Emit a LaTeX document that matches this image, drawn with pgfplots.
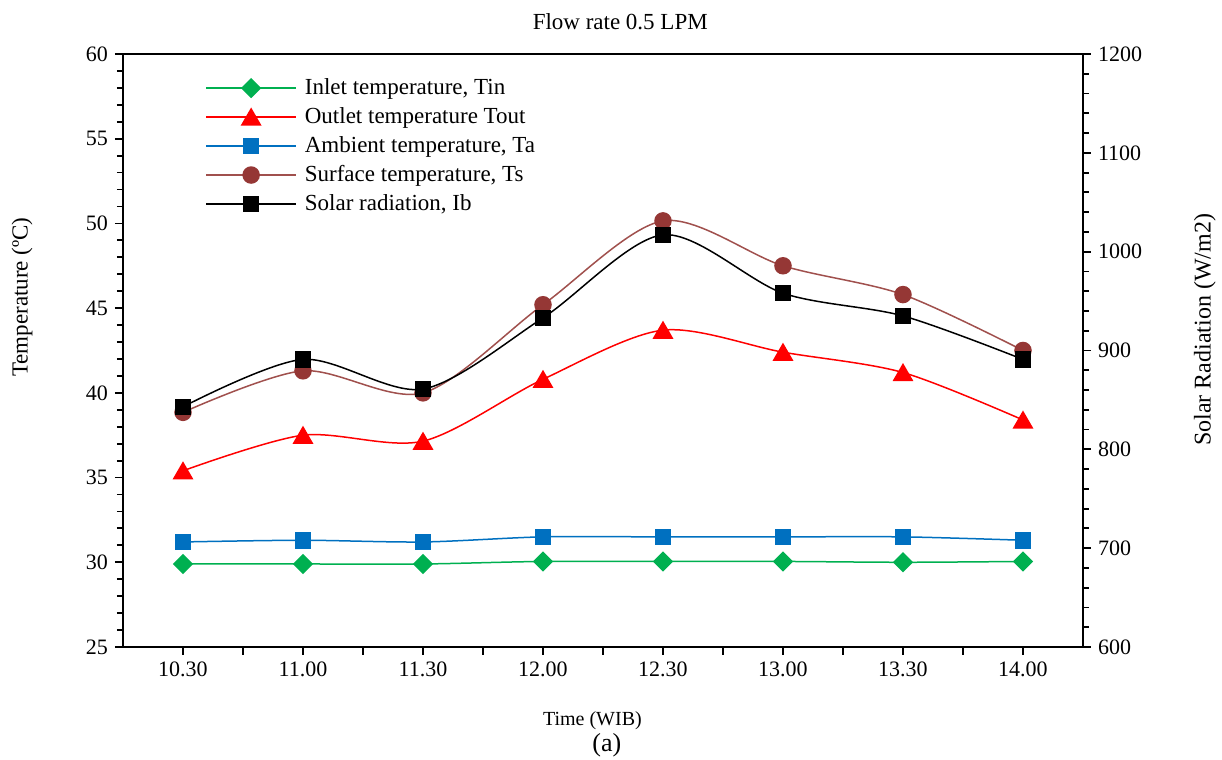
\documentclass[border=0pt]{standalone}
\usepackage{fontspec}
\setmainfont{Liberation Serif}
\usepackage{pgfplots}
\pgfplotsset{compat=1.18}

\definecolor{cTin}{HTML}{00B050}
\definecolor{cTout}{HTML}{FF0000}
\definecolor{cTa}{HTML}{0070C0}
\definecolor{cTs}{HTML}{953735}
\definecolor{cTsline}{HTML}{A0504D}

\begin{document}
\begin{tikzpicture}[x=1pt,y=1pt]
\useasboundingbox (-61.5,-56.5) rectangle (549.5,323.5);
\pgfplotsset{
  every axis/.append style={
    scale only axis, width=480pt, height=296.5pt,
    at={(0,0)}, anchor=south west,
    xmin=-0.5, xmax=7.5, clip=false,
    axis line style={line width=1.1pt},
    tick style={black, line width=0.9pt},
    tick align=outside,
    major tick length=4pt, minor tick length=3pt,
    tick label style={font=\fontsize{11}{13}\selectfont},
    label style={font=\fontsize{10}{12}\selectfont},
    /pgf/number format/assume math mode=true,
    /pgf/number format/1000 sep={},
  },
  mystyle/.style={smooth, tension=0.5, line width=0.75pt},
}
\begin{axis}[
    name=ax,
    ymin=25, ymax=60, ytick={25,30,...,60}, minor y tick num=4,
    xtick={0,0.5,...,7},
    xticklabels={10.30,,11.00,,11.30,,12.00,,12.30,,13.00,,13.30,,14.00},
    xtick pos=bottom, ytick pos=left,
    xlabel={Time (WIB)}, ylabel={Temperature (ºC)},
    xlabel style={at={(axis description cs:0.489,-0.125)}, anchor=center},
    ylabel style={at={(axis description cs:-0.105,0.59)}, anchor=center, font=\fontsize{11.5}{13}\selectfont},
    title={Flow rate 0.5 LPM},
    title style={at={(axis description cs:0.518,1.034)}, anchor=center, font=\fontsize{11.5}{13}\selectfont},
    legend style={draw=none, fill=none, at={(axis description cs:0.0854,0.966)}, anchor=north west,
        inner sep=0pt, row sep=1.0pt, font=\fontsize{11.5}{13.8}\selectfont,
        /tikz/every odd column/.append style={column sep=2pt}},
    legend cell align=left,
    legend image code/.code={\draw[mark repeat=2,mark phase=2] plot coordinates {(0pt,0pt) (22.5pt,0pt) (45pt,0pt)};},
]
\addplot[mystyle, cTin, mark=square*, mark options={rotate=45, fill=cTin, draw=cTin}, mark size=3.2pt] coordinates {
  (0,29.9) (1,29.9) (2,29.9) (3,30.05) (4,30.05) (5,30.05) (6,30.0) (7,30.05)
};
\addlegendentry{Inlet temperature, Tin}
\addplot[mystyle, cTout, mark=triangle*, mark options={fill=cTout, draw=cTout, yshift=-1.3pt}, mark size=5.3pt] coordinates {
  (0,35.4) (1,37.5) (2,37.15) (3,40.8) (4,43.7) (5,42.4) (6,41.2) (7,38.4)
};
\addlegendentry{Outlet temperature Tout}
\addplot[mystyle, cTa, mark=square*, mark options={fill=cTa, draw=cTa}, mark size=3.75pt] coordinates {
  (0,31.2) (1,31.3) (2,31.2) (3,31.5) (4,31.5) (5,31.5) (6,31.5) (7,31.3)
};
\addlegendentry{Ambient temperature, Ta}
\addplot[mystyle, cTsline, mark=*, mark options={fill=cTs, draw=cTs}, mark size=4pt] coordinates {
  (0,38.85) (1,41.3) (2,40.0) (3,45.2) (4,50.15) (5,47.5) (6,45.8) (7,42.5)
};
\addlegendentry{Surface temperature, Ts}
\addlegendimage{mystyle, black, mark=square*, mark options={fill=black}, mark size=3.75pt}
\addlegendentry{Solar radiation, Ib}
\node[font=\fontsize{13}{15}\selectfont] at (axis description cs:0.504,-0.165) {(a)};
\end{axis}
\begin{axis}[
    ymin=600, ymax=1200, ytick={600,700,...,1200}, minor y tick num=4,
    axis y line*=right, axis x line=none,
    ylabel={Solar Radiation (W/m2)},
    ylabel style={at={(axis description cs:1.127,0.535)}, anchor=center, font=\fontsize{12}{14}\selectfont},
]
\addplot[mystyle, black, mark=square*, mark options={fill=black}, mark size=3.75pt] coordinates {
  (0,843) (1,891) (2,861) (3,933) (4,1017) (5,958) (6,935) (7,891)
};
\end{axis}
\end{tikzpicture}
\end{document}
